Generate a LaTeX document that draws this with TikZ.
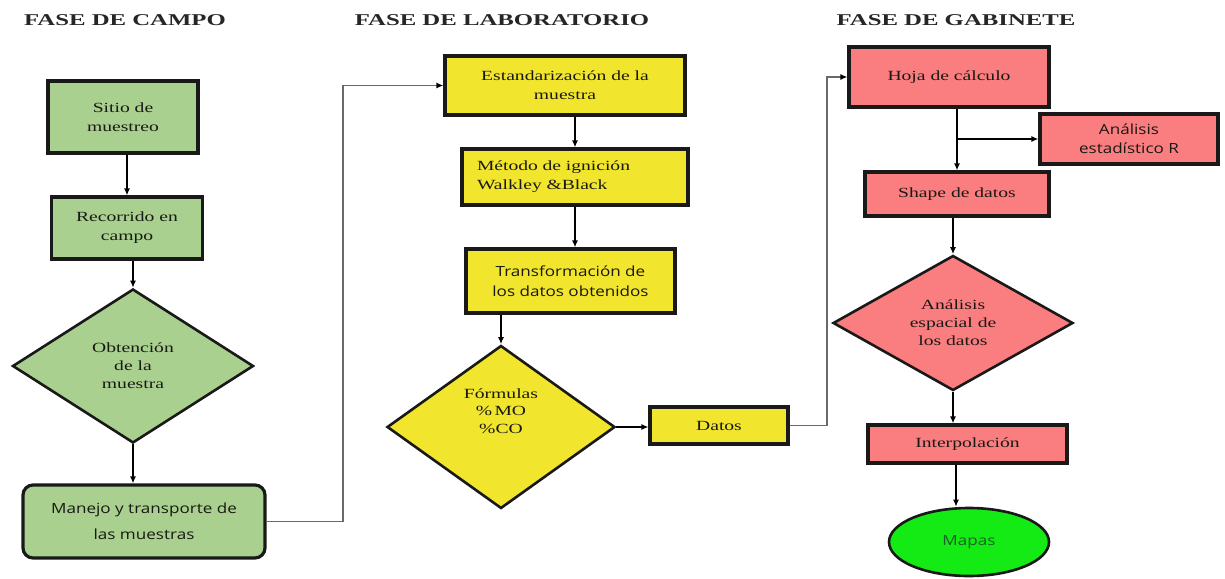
\documentclass[tikz,border=0pt]{standalone}
\usepackage{fontspec}
\setmainfont{Liberation Serif}[FakeStretch=1.4]
\newfontfamily\titlefont{Liberation Serif}[FakeStretch=1.5]
\newfontfamily\sansf{Open Sans}[FakeStretch=1.22]
\usetikzlibrary{shapes.geometric,arrows.meta}
\definecolor{boxgreen}{RGB}{169,208,142}
\definecolor{boxyellow}{RGB}{242,229,45}
\definecolor{boxpink}{RGB}{250,125,128}
\definecolor{mapgreen}{RGB}{20,235,20}
\definecolor{linegray}{RGB}{105,105,105}
\definecolor{txtdark}{RGB}{25,25,20}
\definecolor{mapstxt}{RGB}{30,95,40}
\begin{document}
\begin{tikzpicture}[x=1pt,y=-1pt,
  title/.style={font=\titlefont\bfseries\fontsize{16.5}{20}\selectfont, text=black!85},
  boxbase/.style={draw=black!90, line width=3.2pt, inner sep=0pt, align=center,
     font=\fontsize{14}{19}\selectfont, text=txtdark},
  gbox/.style={boxbase, fill=boxgreen},
  ybox/.style={boxbase, fill=boxyellow},
  pbox/.style={boxbase, fill=boxpink},
  dia/.style={diamond, draw=black!90, line width=2.6pt, inner sep=0pt, align=center,
     font=\fontsize{14}{18}\selectfont, text=txtdark},
  sanstxt/.style={font=\sansf\fontsize{14}{19}\selectfont},
  arr/.style={draw=black, line width=1.6pt, -{Latex[length=7pt,width=6pt]}},
  conn/.style={draw=linegray, line width=1.8pt, -{Latex[length=7pt,width=6pt,color=black]}}
]
\useasboundingbox (0,0) rectangle (1225,578);
\fill[white] (0,0) rectangle (1225,578);

% titles
\node[title] (t1) at (125,20) {FASE DE CAMPO};
\node[title] (t2) at (502,20) {FASE DE LABORATORIO};
\node[title] (t3) at (956,20) {FASE DE GABINETE};

% campo
\node[gbox, minimum width=150pt, minimum height=72pt] (si) at (123,117) {Sitio de\\muestreo};
\node[gbox, minimum width=151pt, minimum height=62pt] (re) at (127,228) {Recorrido en\\campo};
\node[dia, fill=boxgreen, minimum width=241pt, minimum height=154pt] (ob) at (133,366) {Obtención\\de la\\muestra};
\node[gbox, sanstxt, font=\sansf\fontsize{14}{26}\selectfont, rounded corners=10pt,
      minimum width=242pt, minimum height=73pt] (ma) at (144,521.5) {Manejo y transporte de\\las muestras};

% laboratorio
\node[ybox, minimum width=240pt, minimum height=59pt] (es) at (565,85.5) {Estandarización de la\\muestra};
\node[ybox, minimum width=226pt, minimum height=56pt, text width=196pt, align=left] (me) at (575,177) {Método de ignición\\Walkley \&Black};
\node[ybox, sanstxt, minimum width=209pt, minimum height=64pt, font=\sansf\fontsize{14}{20}\selectfont] (tr) at (570.5,281) {Transformación de\\los datos obtenidos};
\node[dia, fill=boxyellow, minimum width=228pt, minimum height=163pt] (fo) at (501,427) {};
\node[align=center, inner sep=0pt, font=\fontsize{14}{17.5}\selectfont, text=txtdark] (fot) at (501,411) {Fórmulas\\\%\,MO\\\%CO};
\node[ybox, minimum width=138pt, minimum height=37pt] (da) at (719,425.5) {Datos};

% gabinete
\node[pbox, minimum width=200pt, minimum height=60pt] (ho) at (949,77) {Hoja de cálculo};
\node[pbox, sanstxt, minimum width=178pt, minimum height=50pt] (an) at (1129,139) {Análisis\\estadístico R};
\node[pbox, minimum width=184pt, minimum height=44pt] (sh) at (957,194) {Shape de datos};
\node[dia, fill=boxpink, minimum width=240pt, minimum height=135pt] (ae) at (953,323) {Análisis\\espacial de\\los datos};
\node[pbox, minimum width=199pt, minimum height=38pt] (in) at (967.5,444) {Interpolación};
\node[ellipse, draw=black!90, line width=2.6pt, fill=mapgreen, minimum width=160pt, minimum height=68pt,
      inner sep=0pt, font=\sansf\fontsize{14}{19}\selectfont, text=mapstxt] (mp) at (969,542) {Mapas};

% connectors campo
\draw[arr] (si.south -| re.north) -- (re.north);
\draw[arr] (re.south -| ob.north) -- (ob.north);
\draw[arr] (ob.south) -- (ob.south |- ma.north);
\draw[conn] (ma.east) -- ++(76,0) |- (es.west);

% connectors laboratorio
\draw[arr] (es.south -| me.north) -- (me.north);
\draw[arr] (me.south) -- (me.south |- tr.north);
\draw[arr] (tr.south -| fo.north) -- (fo.north);
\draw[arr] (fo.east) -- (fo.east -| da.west);
\draw[conn] (da.east) -- ++(37,0) |- (ho.west);

% connectors gabinete
\draw[arr] (ho.south -| sh.north) -- (sh.north);
\draw[arr] (an.west -| sh.north) -- (an.west);
\draw[arr] (sh.south -| ae.north) -- (ae.north);
\draw[arr] (ae.south) -- (ae.south |- in.north);
\draw[arr] ([xshift=-11.5pt]in.south) -- ([xshift=-11.5pt]in.south |- mp.north);
\end{tikzpicture}
\end{document}
